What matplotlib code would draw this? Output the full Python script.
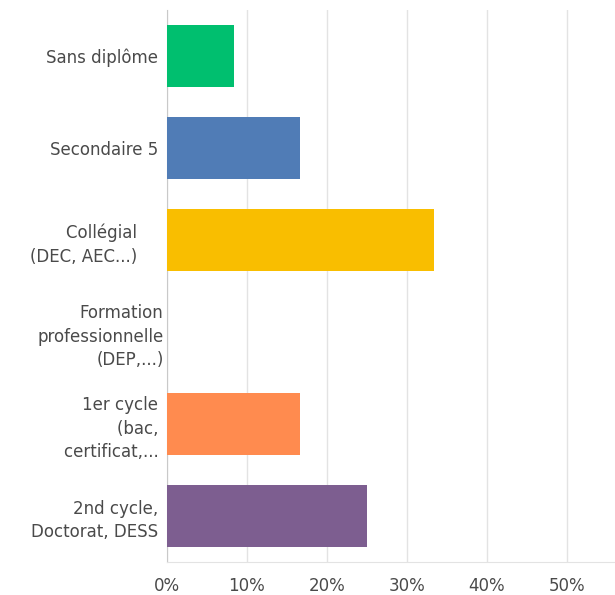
import matplotlib
matplotlib.use("Agg")
import matplotlib.pyplot as plt
from matplotlib.ticker import FuncFormatter

# Réponses (en %)
categories = ["Sans diplôme ",
              "Secondaire 5 ",
              "Collégial     \n(DEC, AEC...)     ",
              "Formation\nprofessionnelle\n(DEP,...)",
              "1er cycle \n(bac, \ncertificat,... ",
              "2nd cycle, \nDoctorat, DESS "]
valeurs = [8.33, 16.67, 33.33, 0.0, 16.67, 25.0]
couleurs = ["#00BF6F", "#507CB6", "#F9BE00", "#9B9B9B", "#FF8B4F", "#7D5E90"]
x_ticks = [0, 10, 20, 30, 40, 50]

plt.rcParams["font.family"] = ["DejaVu Sans"]

fig = plt.figure(figsize=(6.15, 5.95), dpi=100)
ax = fig.add_axes([167 / 615, 33 / 595, 1 - 167 / 615, 552 / 595])

y = range(len(categories))
ax.barh(y, valeurs, height=0.67, color=couleurs, zorder=3)
ax.set_yticks(list(y))
ax.set_yticklabels(categories, fontsize=12, color="#4a4a4a", linespacing=1.38)
ax.set_ylim(len(categories) - 0.5, -0.5)
ax.set_xlim(0, 56)

ax.set_xticks(x_ticks)
ax.xaxis.set_major_formatter(FuncFormatter(lambda v, p: f"{v:.0f}%"))
ax.tick_params(axis="x", length=0, pad=11, labelsize=12, labelcolor="#4a4a4a")
ax.tick_params(axis="y", length=0, pad=2.5)
ax.grid(axis="x", color="#e3e3e3", linewidth=1, zorder=0)

for s in ["top", "right"]:
    ax.spines[s].set_visible(False)
ax.spines["left"].set_color("#c9c9c9")
ax.spines["bottom"].set_color("#e3e3e3")

fig.savefig("out.png", dpi=100)
